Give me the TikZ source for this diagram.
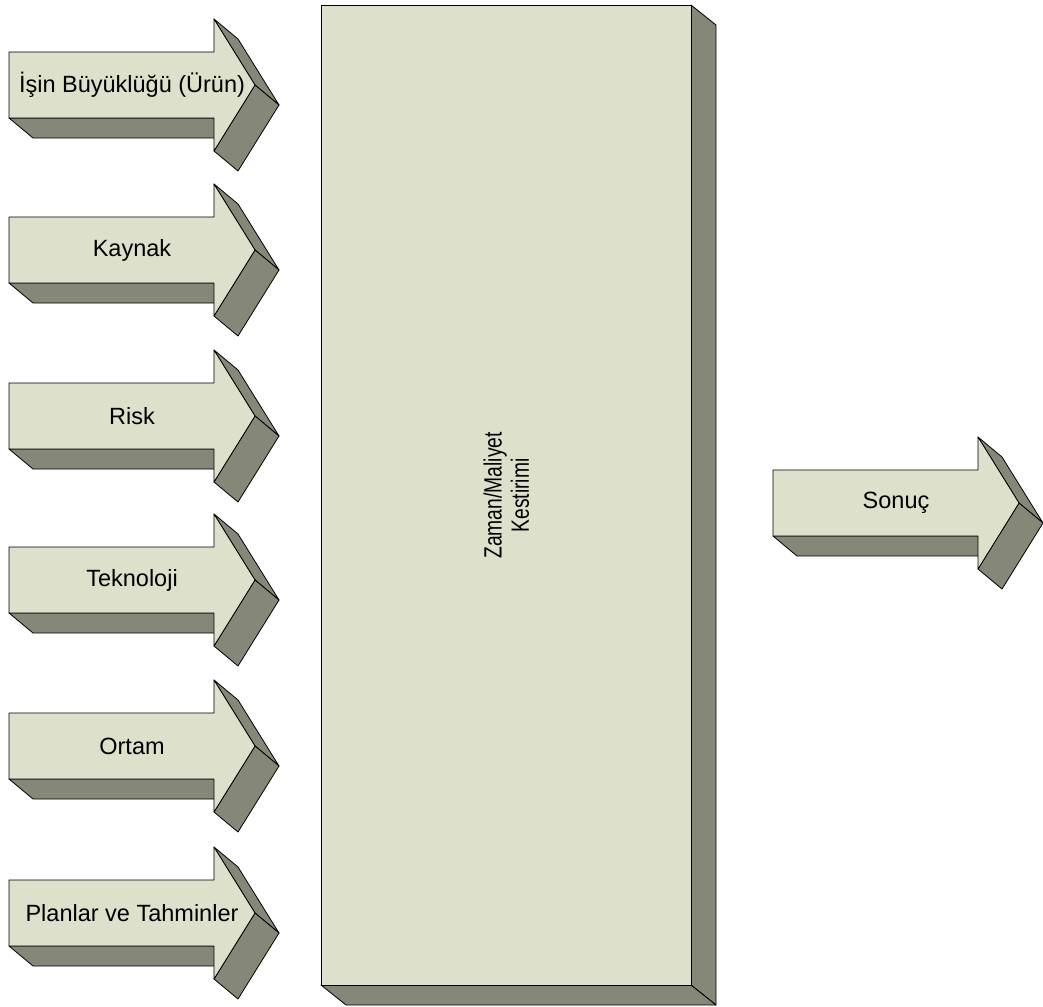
\documentclass[tikz,border=0pt]{standalone}
\usepackage{fontspec}
\setmainfont{Liberation Sans}
\newfontfamily\narrowsans[FakeStretch=0.77]{Liberation Sans}
\definecolor{frontc}{HTML}{DDE0CB}
\definecolor{sidec}{HTML}{858779}
\tikzset{
  frontface/.style={fill=frontc, draw=black, line width=0.8pt, line join=round},
  sideface/.style={fill=sidec, draw=black, line width=0.8pt, line join=round},
  arrowlabel/.style={font=\fontsize{23.5}{28}\selectfont, inner sep=0pt}
}
% #1 name, #2 x, #3 y (left-centre of arrow body), #4 text
\newcommand\blockarrow[4]{%
  \begin{scope}[shift={(#2,#3)}]
    \draw[sideface] (0,33) -- (205,33) -- (229,53) -- (24,53) -- cycle;
    \draw[sideface] (205,-66) -- (246,0) -- (270,20) -- (229,-46) -- cycle;
    \draw[sideface] (246,0) -- (205,66) -- (229,86) -- (270,20) -- cycle;
    \draw[frontface] (0,-33) -- (205,-33) -- (205,-66) -- (246,0) -- (205,66) -- (205,33) -- (0,33) -- cycle;
    \node[arrowlabel] (#1) at (123,0) {#4};
  \end{scope}%
}
\begin{document}
\begin{tikzpicture}[x=1pt, y=-1pt]
\useasboundingbox (0,0) rectangle (1043,1006);
% central block
\draw[sideface] (691,5) -- (716,25) -- (716,1005) -- (691,985) -- cycle;
\draw[sideface] (321,985) -- (691,985) -- (716,1005) -- (346,1005) -- cycle;
\node[frontface, anchor=north west, minimum width=370pt, minimum height=980pt, inner sep=0pt] (box) at (321,5) {};
\node[rotate=90, align=center, font=\narrowsans\fontsize{25}{27.3}\selectfont] (boxlabel) at (box.center) {Zaman/Maliyet\\Kestirimi};
% input arrows
\blockarrow{a1}{9}{85}{İşin Büyüklüğü (Ürün)}
\blockarrow{a2}{9}{250}{Kaynak}
\blockarrow{a3}{9}{416}{Risk}
\blockarrow{a4}{9}{580}{Teknoloji}
\blockarrow{a5}{9}{746}{Ortam}
\blockarrow{a6}{9}{913}{Planlar ve Tahminler}
% output arrow
\blockarrow{out}{773}{503}{Sonuç}
\end{tikzpicture}
\end{document}
